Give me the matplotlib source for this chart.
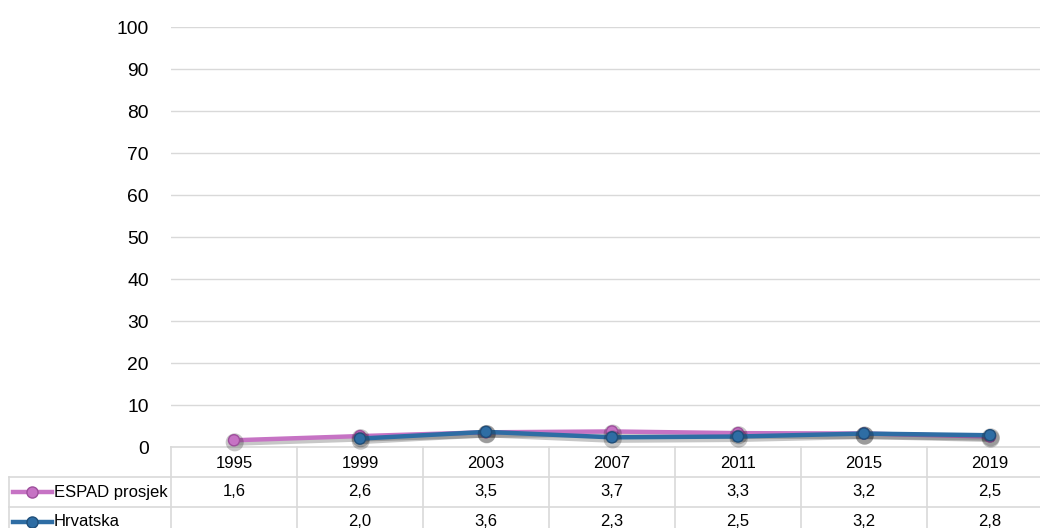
import matplotlib
matplotlib.use("Agg")
import matplotlib.pyplot as plt
import matplotlib.patheffects as pe
from matplotlib.transforms import blended_transform_factory
from matplotlib.lines import Line2D
import numpy as np

years = ["1995", "1999", "2003", "2007", "2011", "2015", "2019"]
espad = [1.6, 2.6, 3.5, 3.7, 3.3, 3.2, 2.5]
hrvatska = [None, 2.0, 3.6, 2.3, 2.5, 3.2, 2.8]
series_names = ["ESPAD prosjek", "Hrvatska"]
yticks = [0, 10, 20, 30, 40, 50, 60, 70, 80, 90, 100]

colors = ["#C673C4", "#2E6DA4"]
edge_colors = ["#9E4F9C", "#1F4E79"]

W, H = 1040, 528
fig = plt.figure(figsize=(W / 100, H / 100), dpi=100)
left_px, right_px, top_px, bot_px = 171, 1053, 27, 447
ax = fig.add_axes([left_px / W, 1 - bot_px / H, (right_px - left_px) / W, (bot_px - top_px) / H])

font = "Liberation Sans"
x = np.arange(len(years))
ax.set_xlim(-0.5, len(years) - 0.5)
ax.set_ylim(0, 100)
ax.set_yticks(yticks)
ax.set_yticklabels([str(v) for v in yticks], fontsize=13.9, family=font, color="#000000")
ax.tick_params(axis="y", length=0, pad=16)
ax.set_xticks([])
ax.grid(axis="y", color="#D9D9D9", linewidth=1.0)
ax.set_axisbelow(True)
for s in ax.spines.values():
    s.set_visible(False)

shadow = [pe.SimpleLineShadow(offset=(0.5, -1.5), shadow_color="#000000", alpha=0.22, linewidth=5), pe.Normal()]
all_vals = [espad, hrvatska]
for i, vals in enumerate(all_vals):
    xs = [xi for xi, v in zip(x, vals) if v is not None]
    ys = [v for v in vals if v is not None]
    ax.plot(xs, ys, color=colors[i], linewidth=3.2, marker="o", markersize=8,
            markerfacecolor=colors[i], markeredgecolor=edge_colors[i], markeredgewidth=1.0,
            path_effects=shadow, zorder=3 + i, clip_on=False)

# Data table
tr = blended_transform_factory(ax.transData, ax.transAxes)
ah = bot_px - top_px
row_px = [0, 30, 60, 90]
rows_y = [-r / ah for r in row_px]
grid_c = "#D9D9D9"
for b in np.arange(len(years) + 1) - 0.5:
    ax.add_line(Line2D([b, b], [rows_y[0], rows_y[3]], transform=tr, color=grid_c, lw=1.2, clip_on=False))
ax.add_line(Line2D([-0.5, len(years) - 0.5], [rows_y[0], rows_y[0]], transform=tr, color=grid_c, lw=1.2, clip_on=False))
for ry in rows_y[1:3]:
    ax.add_line(Line2D([9 / W, right_px / W], [1 - (bot_px + (-ry) * ah) / H] * 2, transform=fig.transFigure,
                       color=grid_c, lw=1.2, clip_on=False))
fig.add_artist(Line2D([9 / W, 9 / W], [1 - (bot_px + 30) / H, 0], transform=fig.transFigure, color=grid_c, lw=1.2))

fs = 12
for j, yr in enumerate(years):
    ax.text(j, (rows_y[0] + rows_y[1]) / 2 - 2 / ah, yr, transform=tr, ha="center", va="center",
            fontsize=fs, family=font)
for i, vals in enumerate(all_vals):
    yc = (rows_y[i + 1] + rows_y[i + 2]) / 2
    for j, v in enumerate(vals):
        if v is not None:
            ax.text(j, yc, f"{v:.1f}".replace(".", ","), transform=tr, ha="center", va="center",
                    fontsize=fs, family=font)
    ypix = bot_px + (row_px[i + 1] + row_px[i + 2]) / 2
    yf = 1 - ypix / H
    fig.add_artist(Line2D([13 / W, 52 / W], [yf, yf], transform=fig.transFigure, color=colors[i], lw=3.2))
    fig.add_artist(Line2D([32 / W], [yf], transform=fig.transFigure, marker="o", markersize=8,
                          markerfacecolor=colors[i], markeredgecolor=edge_colors[i], markeredgewidth=1.0))
    fig.text(54 / W, yf, series_names[i], ha="left", va="center", fontsize=fs, family=font)

fig.savefig("out.png", dpi=100)
